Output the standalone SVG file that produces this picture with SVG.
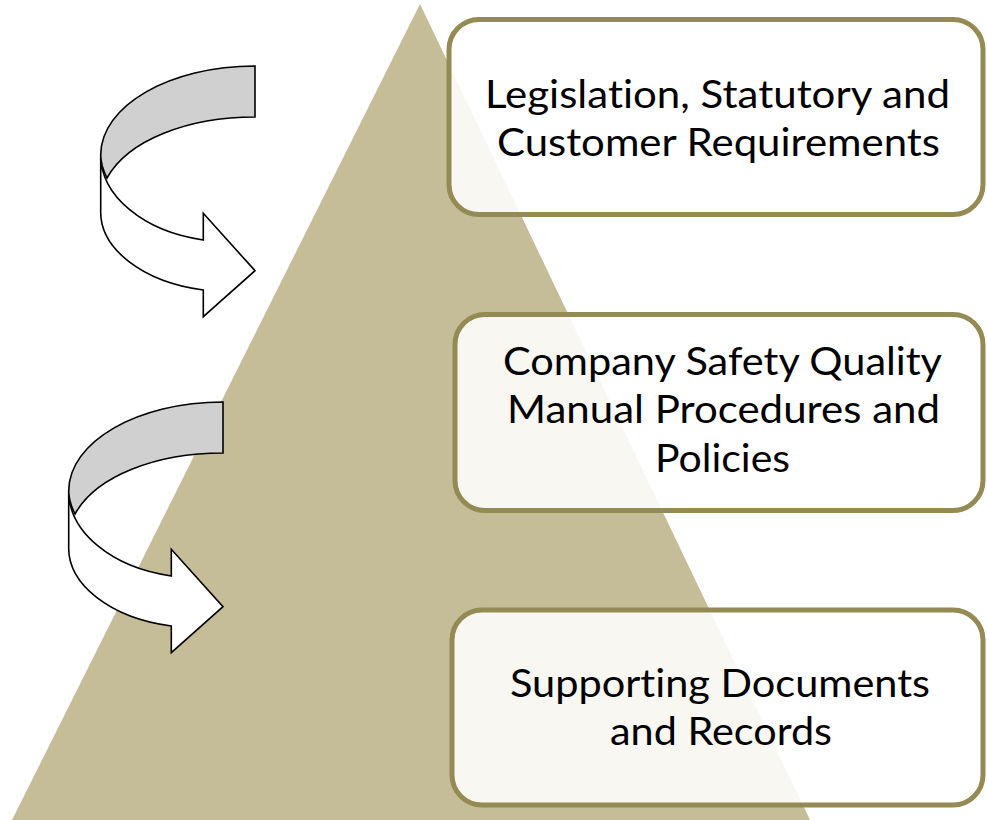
<svg xmlns="http://www.w3.org/2000/svg" xmlns:xlink="http://www.w3.org/1999/xlink" width="987" height="820" viewBox="0 0 987 820">
<style>
.box{fill:#ffffff;fill-opacity:0.88;stroke:#948A54;stroke-width:5}
.lbl{font-family:Lato,"Open Sans","Liberation Sans",sans-serif;font-size:38px;fill:#000000;text-anchor:middle;font-variant-ligatures:none}
.gray{fill:#D0D0D0;stroke:#000000;stroke-width:1.6;stroke-linejoin:miter}
.white{fill:#ffffff;stroke:#000000;stroke-width:1.6;stroke-linejoin:miter}
</style>
<defs>
<g id="curvedArrow">
<path class="white" d="M100.7,155 L100.7,210 A130,80 0 0 0 203.3,290 L203.3,316.7 L255,270.7 L203.3,213.3 L203.3,240 A129.3,87 0 0 1 100.7,155 Z"/>
<path class="gray" d="M255,66 L255,117 C188,117 128,140 107,178 C103,170 100.7,163 100.7,155 C100.7,105.9 169.4,66 255,66 Z"/>
</g>
</defs>
<rect width="987" height="820" fill="#ffffff"/>
<polygon id="pyramid" points="420,4 12,820 810,820" fill="#C4BD97"/>
<g id="connectors">
<use xlink:href="#curvedArrow" href="#curvedArrow"/>
<use xlink:href="#curvedArrow" href="#curvedArrow" transform="translate(-32,336)"/>
</g>
<g id="node1">
<rect class="box" x="449" y="19.5" width="534" height="195" rx="30"/>
<text class="lbl" x="717.5" y="108" textLength="465" lengthAdjust="spacingAndGlyphs">Legislation, Statutory and</text>
<text class="lbl" x="718.5" y="156" textLength="443" lengthAdjust="spacingAndGlyphs">Customer Requirements</text>
</g>
<g id="node2">
<rect class="box" x="455" y="314.5" width="528" height="196" rx="30"/>
<text class="lbl" x="722.5" y="375" textLength="439" lengthAdjust="spacingAndGlyphs">Company Safety Quality</text>
<text class="lbl" x="723.5" y="423" textLength="433" lengthAdjust="spacingAndGlyphs">Manual Procedures and</text>
<text class="lbl" x="722.5" y="472" textLength="135" lengthAdjust="spacingAndGlyphs">Policies</text>
</g>
<g id="node3">
<rect class="box" x="452" y="610" width="531" height="195" rx="30"/>
<text class="lbl" x="720" y="697" textLength="420" lengthAdjust="spacingAndGlyphs">Supporting Documents</text>
<text class="lbl" x="721" y="745" textLength="222" lengthAdjust="spacingAndGlyphs">and Records</text>
</g>
</svg>
